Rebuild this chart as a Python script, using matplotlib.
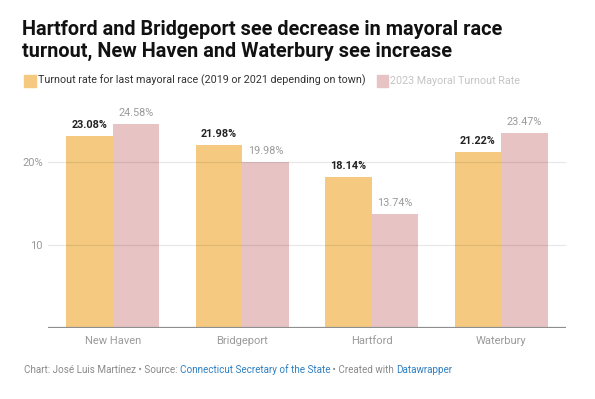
import matplotlib
matplotlib.use("Agg")
import matplotlib.pyplot as plt
from matplotlib.patches import Rectangle
import numpy as np

plt.rcParams['font.family'] = ['Roboto', 'DejaVu Sans']

cities = ["New Haven", "Bridgeport", "Hartford", "Waterbury"]
prev_turnout = [23.08, 21.98, 18.14, 21.22]
turnout_2023 = [24.58, 19.98, 13.74, 23.47]
series_names = ["Turnout rate for last mayoral race (2019 or 2021 depending on town)",
                "2023 Mayoral Turnout Rate"]
yticks = [10, 20]
ytick_labels = ["10", "20%"]

C1 = "#f5ca80"
C2 = "#e7c3c3"
GRAY = "#9a9a9a"

W, H = 595, 399
fig = plt.figure(figsize=(W/100, H/100), dpi=100)

def px(x, y):
    return x / W, 1 - y / H

ax_left, ax_right, ax_top, ax_bot = 48, 566, 110, 327.7
ax = fig.add_axes([ax_left/W, 1-ax_bot/H, (ax_right-ax_left)/W, (ax_bot-ax_top)/H])
ax.set_xlim(-0.5, 3.5)
ax.set_ylim(0, (ax_bot-ax_top)/8.3)

x = np.arange(len(cities))
bw = 0.36
ax.bar(x - bw/2, prev_turnout, bw, color=C1, zorder=1)
ax.bar(x + bw/2, turnout_2023, bw, color=C2, zorder=1)

for yv in yticks:
    ax.axhline(yv, color="#000000", alpha=0.09, lw=0.9, zorder=2)
ax.axhline(0, color="#8f8f8f", lw=1.6, zorder=3)

for xi, v in zip(x, prev_turnout):
    ax.annotate(f"{v:.2f}%", (xi - bw/2, v), xytext=(0, 4.2), textcoords="offset points",
                ha="center", va="bottom", fontsize=7.8, fontweight="bold", color="#222222")
for xi, v in zip(x, turnout_2023):
    ax.annotate(f"{v:.2f}%", (xi + bw/2, v), xytext=(0, 4.2), textcoords="offset points",
                ha="center", va="bottom", fontsize=7.8, color=GRAY)

ax.set_yticks(yticks)
ax.set_yticklabels(ytick_labels)
ax.set_xticks(x)
ax.set_xticklabels(cities)
ax.tick_params(axis="both", length=0, colors=GRAY, labelsize=8.0)
ax.tick_params(axis="y", pad=3.6)
ax.tick_params(axis="x", pad=6)
for s in ax.spines.values():
    s.set_visible(False)

# Title
fig.text(*px(22, 35), "Hartford and Bridgeport see decrease in mayoral race",
         fontsize=14.3, fontweight="bold", color="#111111", va="baseline", ha="left")
fig.text(*px(22, 56.7), "turnout, New Haven and Waterbury see increase",
         fontsize=14.3, fontweight="bold", color="#111111", va="baseline", ha="left")

# Legend
fig.patches.append(Rectangle(px(23.5, 86.5), 12/W, 12/H, transform=fig.transFigure,
                             color=C1, figure=fig))
fig.text(*px(38, 80.7), series_names[0], fontsize=7.75, color="#333333", va="center", ha="left")
fig.patches.append(Rectangle(px(376.5, 86.5), 11/W, 12/H, transform=fig.transFigure,
                             color=C2, figure=fig))
fig.text(*px(390, 80.7), series_names[1], fontsize=7.75, color="#c4c4c4", va="center", ha="left")

# Footer
parts = [("Chart: José Luis Martínez • Source: ", "#8a8a8a"),
         ("Connecticut Secretary of the State", "#2f7fc1"),
         (" • Created with ", "#8a8a8a"),
         ("Datawrapper", "#2f7fc1")]
fig.canvas.draw()
r = fig.canvas.get_renderer()
xpos = 23.5
for txt, col in parts:
    t = fig.text(*px(xpos, 370), txt, fontsize=7.1, color=col, va="center", ha="left")
    bb = t.get_window_extent(renderer=r)
    xpos += bb.width

fig.savefig("out.png", dpi=100)
